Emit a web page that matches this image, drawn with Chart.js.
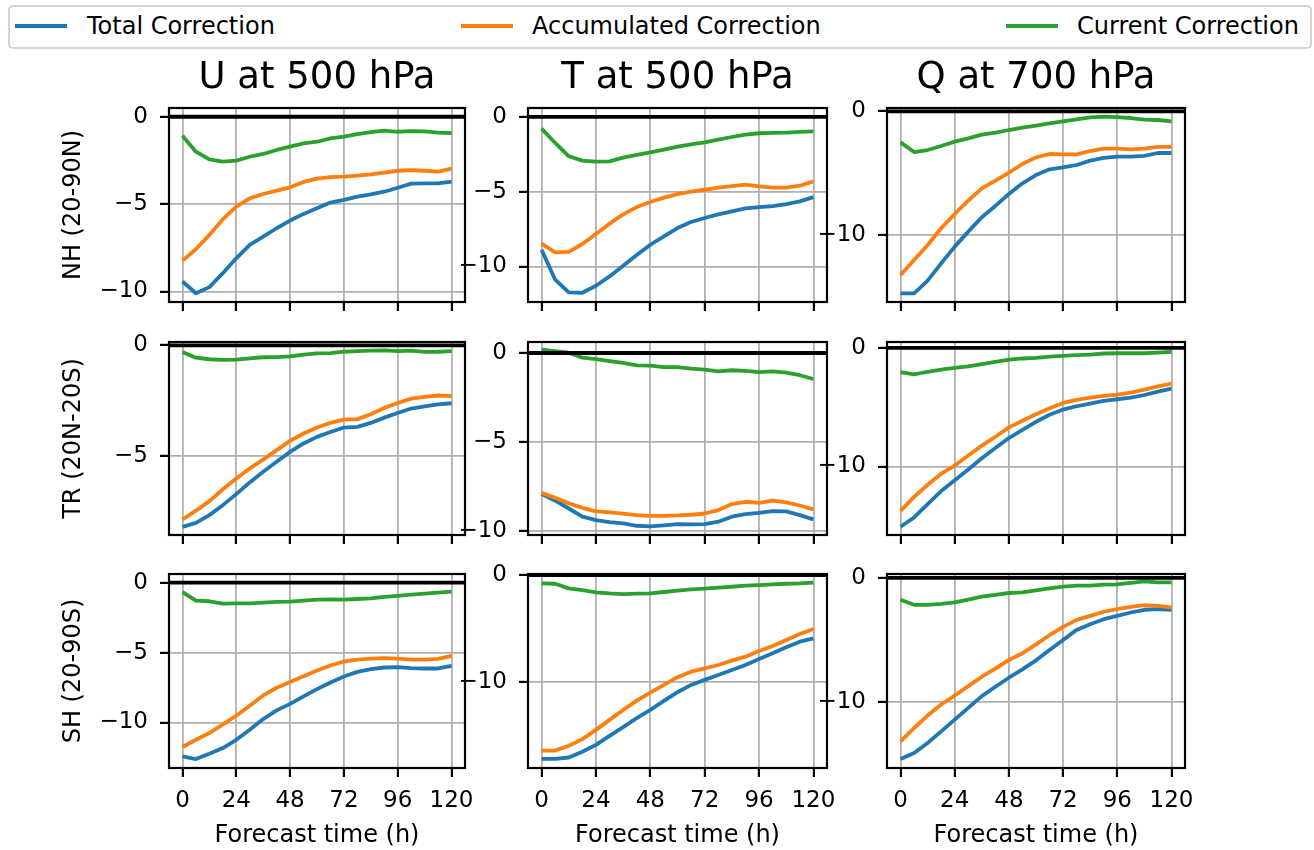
<!DOCTYPE html>
<html>
<head>
<meta charset="utf-8">
<script src="https://cdn.jsdelivr.net/npm/chart.js@4.4.1/dist/chart.umd.min.js"></script>
<style>
html,body{margin:0;padding:0;background:#fff;}
#wrap{position:relative;width:1314px;height:850px;overflow:hidden;font-family:"DejaVu Sans",sans-serif;background:#fff;}
#wrap canvas{position:absolute;left:0;top:0;}
#legendBox{position:absolute;left:8px;top:5px;width:1300px;height:40px;border:2px solid #d4d4d4;border-radius:5px;background:rgba(255,255,255,0.8);}
.lgItem{position:absolute;top:12px;height:28px;line-height:28px;font-size:24px;color:#000;white-space:nowrap;font-family:"DejaVu Sans",sans-serif;}
.lgSwatch{position:absolute;top:24px;height:4px;width:52px;}
</style>
</head>
<body>
<div id="wrap"></div>
<script>
// ---------------- data ----------------
const hours = [0, 6, 12, 18, 24, 30, 36, 42, 48, 54, 60, 66, 72, 78, 84, 90, 96, 102, 108, 114, 120];
const xTicks = [0, 24, 48, 72, 96, 120];
const xLimits = [-6, 126];
const seriesNames = ['Total Correction', 'Accumulated Correction', 'Current Correction'];
const variableTitles = ['U at 500 hPa', 'T at 500 hPa', 'Q at 700 hPa'];
const regionLabels = ['NH (20-90N)', 'TR (20N-20S)', 'SH (20-90S)'];
const xAxisLabel = 'Forecast time (h)';
const referenceValue = 0;

// NH
const uNH_total   = [-9.43,-10.1,-9.75,-8.95,-8.1,-7.33,-6.86,-6.38,-5.94,-5.56,-5.24,-4.91,-4.76,-4.57,-4.44,-4.29,-4.06,-3.83,-3.81,-3.81,-3.71];
const uNH_accum   = [-8.23,-7.58,-6.76,-5.87,-5.14,-4.67,-4.42,-4.23,-4.04,-3.73,-3.54,-3.45,-3.43,-3.37,-3.3,-3.2,-3.09,-3.05,-3.09,-3.14,-2.97];
const uNH_current = [-1.09,-2.0,-2.44,-2.57,-2.51,-2.29,-2.13,-1.9,-1.71,-1.52,-1.43,-1.24,-1.14,-0.99,-0.88,-0.8,-0.86,-0.82,-0.84,-0.91,-0.93];
const tNH_total   = [-8.88,-10.89,-11.74,-11.76,-11.29,-10.67,-9.96,-9.24,-8.55,-7.99,-7.43,-7.03,-6.76,-6.52,-6.32,-6.12,-6.03,-5.96,-5.83,-5.65,-5.36];
const tNH_accum   = [-8.48,-9.06,-9.02,-8.5,-7.83,-7.14,-6.52,-6.03,-5.69,-5.4,-5.16,-5.0,-4.87,-4.73,-4.62,-4.53,-4.64,-4.73,-4.73,-4.6,-4.31];
const tNH_current = [-0.78,-1.74,-2.63,-2.92,-2.99,-2.97,-2.72,-2.54,-2.37,-2.19,-1.99,-1.83,-1.7,-1.52,-1.34,-1.18,-1.09,-1.07,-1.05,-1.0,-0.96];
const qNH_total   = [-14.72,-14.72,-13.69,-12.29,-10.94,-9.73,-8.57,-7.65,-6.68,-5.82,-5.15,-4.69,-4.53,-4.34,-3.99,-3.77,-3.67,-3.67,-3.61,-3.37,-3.37];
const qNH_accum   = [-13.23,-12.02,-10.81,-9.46,-8.3,-7.22,-6.23,-5.61,-4.96,-4.26,-3.72,-3.45,-3.48,-3.48,-3.21,-3.02,-3.02,-3.07,-3.02,-2.88,-2.88];
const qNH_current = [-2.51,-3.29,-3.13,-2.8,-2.45,-2.18,-1.89,-1.73,-1.51,-1.32,-1.16,-0.97,-0.81,-0.65,-0.49,-0.43,-0.46,-0.54,-0.67,-0.7,-0.81];
// TR
const uTR_total   = [-8.21,-8.03,-7.68,-7.23,-6.73,-6.2,-5.72,-5.27,-4.82,-4.44,-4.14,-3.92,-3.72,-3.69,-3.51,-3.27,-3.06,-2.86,-2.76,-2.67,-2.62];
const uTR_accum   = [-7.88,-7.48,-7.05,-6.51,-6.02,-5.57,-5.17,-4.74,-4.32,-3.99,-3.72,-3.51,-3.36,-3.34,-3.12,-2.83,-2.61,-2.41,-2.33,-2.27,-2.3];
const uTR_current = [-0.3,-0.56,-0.63,-0.66,-0.65,-0.59,-0.54,-0.53,-0.5,-0.42,-0.36,-0.35,-0.29,-0.26,-0.24,-0.23,-0.26,-0.24,-0.3,-0.29,-0.26];
const tTR_total   = [-7.92,-8.31,-8.75,-9.21,-9.4,-9.51,-9.59,-9.72,-9.76,-9.7,-9.63,-9.64,-9.63,-9.49,-9.21,-9.06,-8.99,-8.9,-8.91,-9.12,-9.36];
const tTR_accum   = [-7.87,-8.15,-8.46,-8.71,-8.91,-8.97,-9.04,-9.12,-9.16,-9.16,-9.14,-9.1,-9.03,-8.84,-8.5,-8.37,-8.43,-8.3,-8.41,-8.58,-8.8];
const tTR_current = [0.19,0.11,0.02,-0.26,-0.34,-0.45,-0.56,-0.69,-0.71,-0.79,-0.79,-0.88,-0.94,-1.03,-0.97,-1.01,-1.07,-1.03,-1.1,-1.25,-1.46];
const qTR_total   = [-15.08,-14.3,-13.18,-12.07,-11.17,-10.25,-9.3,-8.44,-7.6,-6.91,-6.23,-5.64,-5.2,-4.92,-4.69,-4.47,-4.33,-4.19,-3.97,-3.69,-3.44];
const qTR_accum   = [-13.74,-12.57,-11.54,-10.61,-9.92,-9.08,-8.24,-7.49,-6.7,-6.15,-5.59,-5.08,-4.64,-4.39,-4.19,-4.05,-3.94,-3.77,-3.52,-3.24,-3.02];
const qTR_current = [-2.04,-2.23,-2.01,-1.84,-1.68,-1.56,-1.37,-1.17,-0.98,-0.89,-0.84,-0.73,-0.67,-0.61,-0.56,-0.47,-0.45,-0.45,-0.45,-0.39,-0.34];
// SH
const uSH_total   = [-12.43,-12.62,-12.24,-11.83,-11.24,-10.52,-9.76,-9.14,-8.67,-8.14,-7.62,-7.14,-6.71,-6.38,-6.19,-6.07,-6.05,-6.12,-6.14,-6.14,-5.95];
const uSH_accum   = [-11.76,-11.24,-10.76,-10.14,-9.52,-8.81,-8.07,-7.52,-7.1,-6.69,-6.29,-5.93,-5.64,-5.5,-5.43,-5.4,-5.43,-5.5,-5.5,-5.45,-5.24];
const uSH_current = [-0.67,-1.29,-1.33,-1.5,-1.48,-1.48,-1.43,-1.38,-1.36,-1.29,-1.21,-1.19,-1.21,-1.17,-1.12,-1.02,-0.95,-0.86,-0.79,-0.71,-0.64];
const tSH_total   = [-17.14,-17.14,-17.02,-16.49,-15.84,-15.0,-14.19,-13.35,-12.58,-11.74,-10.93,-10.25,-9.78,-9.32,-8.85,-8.39,-7.83,-7.3,-6.74,-6.21,-5.9];
const tSH_accum   = [-16.37,-16.37,-15.93,-15.31,-14.44,-13.51,-12.58,-11.71,-10.96,-10.25,-9.53,-9.01,-8.7,-8.39,-7.98,-7.61,-7.08,-6.61,-6.06,-5.5,-5.03];
const tSH_current = [-0.78,-0.81,-1.24,-1.4,-1.61,-1.71,-1.77,-1.74,-1.71,-1.58,-1.46,-1.34,-1.27,-1.18,-1.09,-0.99,-0.93,-0.87,-0.81,-0.78,-0.71];
const qSH_total   = [-14.58,-14.1,-13.29,-12.35,-11.4,-10.46,-9.51,-8.76,-8.03,-7.36,-6.63,-5.8,-4.99,-4.18,-3.72,-3.32,-3.05,-2.78,-2.56,-2.51,-2.56];
const qSH_accum   = [-13.15,-12.08,-11.08,-10.19,-9.46,-8.71,-7.95,-7.3,-6.6,-6.06,-5.34,-4.61,-3.94,-3.37,-3.05,-2.72,-2.51,-2.32,-2.18,-2.24,-2.37];
const qSH_current = [-1.75,-2.16,-2.16,-2.08,-1.97,-1.75,-1.51,-1.37,-1.21,-1.16,-1.0,-0.84,-0.7,-0.62,-0.62,-0.54,-0.51,-0.4,-0.27,-0.35,-0.35];

// y tick labels and y limits, per panel
const uNH_yTicks = [-10, -5, 0];  const uNH_yLim = [-10.6, 0.5];
const tNH_yTicks = [-10, -5, 0];  const tNH_yLim = [-12.38, 0.6];
const qNH_yTicks = [-10, 0];      const qNH_yLim = [-15.42, 0.27];
const uTR_yTicks = [-5, 0];       const uTR_yLim = [-8.58, 0.15];
const tTR_yTicks = [-10, -5, 0];  const tTR_yLim = [-10.24, 0.62];
const qTR_yTicks = [-10, 0];      const qTR_yLim = [-15.78, 0.5];
const uSH_yTicks = [-10, -5, 0];  const uSH_yLim = [-13.26, 0.62];
const tSH_yTicks = [-10, 0];      const tSH_yLim = [-18.0, 0.1];
const qSH_yTicks = [-10, 0];      const qSH_yLim = [-15.3, 0.32];

const panelData = [
  [[uNH_total,uNH_accum,uNH_current,uNH_yTicks,uNH_yLim],[tNH_total,tNH_accum,tNH_current,tNH_yTicks,tNH_yLim],[qNH_total,qNH_accum,qNH_current,qNH_yTicks,qNH_yLim]],
  [[uTR_total,uTR_accum,uTR_current,uTR_yTicks,uTR_yLim],[tTR_total,tTR_accum,tTR_current,tTR_yTicks,tTR_yLim],[qTR_total,qTR_accum,qTR_current,qTR_yTicks,qTR_yLim]],
  [[uSH_total,uSH_accum,uSH_current,uSH_yTicks,uSH_yLim],[tSH_total,tSH_accum,tSH_current,tSH_yTicks,tSH_yLim],[qSH_total,qSH_accum,qSH_current,qSH_yTicks,qSH_yLim]]
];

// ---------------- layout / style ----------------
const W = 1314, H = 850;
const colLeft = [169, 528, 887], colRight = [465, 827, 1185];
const rowTop = [108, 342, 574], rowBottom = [302, 535, 768];
const colors = ['#1f77b4', '#ff7f0e', '#2ca02c'];
const LINE_W = 3.8;
const FONT = 'DejaVu Sans';
const TICK_SIZE = 23, LABEL_SIZE = 24, TITLE_SIZE = 37;

Chart.defaults.font.family = FONT;
Chart.defaults.color = '#000';

const wrap = document.getElementById('wrap');

// legend (HTML)
const legendBox = document.createElement('div');
legendBox.id = 'legendBox';
wrap.appendChild(legendBox);
const legendSwatchX = [15, 461, 1006];
const legendTextX = [87, 532, 1077];
seriesNames.forEach((name, i) => {
  const sw = document.createElement('div');
  sw.className = 'lgSwatch';
  sw.style.left = legendSwatchX[i] + 'px';
  sw.style.background = colors[i];
  wrap.appendChild(sw);
  const t = document.createElement('div');
  t.className = 'lgItem';
  t.style.left = legendTextX[i] + 'px';
  t.textContent = name;
  wrap.appendChild(t);
});

const framePlugin = {
  id: 'frameAndZero',
  afterDatasetsDraw(chart) {
    const {ctx, chartArea: a, scales} = chart;
    const y0 = scales.y.getPixelForValue(referenceValue);
    ctx.save();
    ctx.beginPath();
    ctx.rect(a.left, a.top, a.right - a.left, a.bottom - a.top);
    ctx.clip();
    ctx.strokeStyle = '#000';
    ctx.lineWidth = 3.8;
    ctx.beginPath();
    ctx.moveTo(a.left, y0);
    ctx.lineTo(a.right, y0);
    ctx.stroke();
    ctx.restore();
    ctx.save();
    ctx.strokeStyle = '#000';
    ctx.lineWidth = 2.2;
    ctx.strokeRect(a.left, a.top, a.right - a.left, a.bottom - a.top);
    ctx.restore();
  }
};

const minusFmt = v => String(v).replace('-', '\u2212');

function makePanel(r, c) {
  const [total, accum, current, yTicks, yLim] = panelData[r][c];
  const canvas = document.createElement('canvas');
  canvas.width = W; canvas.height = H;
  wrap.appendChild(canvas);

  const L = colLeft[c], R = colRight[c], T = rowTop[r], B = rowBottom[r];
  const yAxW = c === 0 ? L : 80;
  const xAxH = r === 2 ? H - B : 20;
  const titleLine = TITLE_SIZE * 1.2;
  const titlePadBottom = 7.4;
  const topPad = r === 0 ? T - titleLine - titlePadBottom : T;

  const mk = (arr) => hours.map((h, i) => ({x: h, y: arr[i]}));
  const ds = (k, arr, ord) => ({label: seriesNames[k], data: mk(arr), borderColor: colors[k],
    backgroundColor: colors[k], borderWidth: LINE_W, pointRadius: 0, tension: 0, fill: false, order: ord});

  new Chart(canvas, {
    type: 'line',
    data: {
      datasets: [ds(0, total, 3), ds(1, accum, 2), ds(2, current, 1)]
    },
    options: {
      responsive: false,
      animation: false,
      events: [],
      layout: {padding: {left: L - yAxW, right: W - R, top: topPad, bottom: H - B - xAxH}},
      elements: {
        point: {radius: 0, hoverRadius: 0},
        line: {borderWidth: LINE_W, tension: 0, fill: false, borderJoinStyle: 'round', borderCapStyle: 'butt'}
      },
      plugins: {
        legend: {display: false},
        tooltip: {enabled: false},
        title: {
          display: r === 0,
          text: variableTitles[c],
          fullSize: false,
          color: '#000',
          font: {family: FONT, size: TITLE_SIZE, weight: 'normal', lineHeight: 1.2},
          padding: {top: 0, bottom: titlePadBottom}
        }
      },
      scales: {
        x: {
          type: 'linear',
          position: 'bottom',
          min: xLimits[0], max: xLimits[1],
          afterBuildTicks: a => { a.ticks = xTicks.map(v => ({value: v})); },
          afterFit: a => { a.height = xAxH; a.paddingLeft = 0; a.paddingRight = 0; },
          ticks: {display: r === 2, autoSkip: false, maxRotation: 0, padding: 10, color: '#000',
                  font: {family: FONT, size: TICK_SIZE}},
          grid: {color: '#b0b0b0', lineWidth: 1.8, tickColor: '#000', tickWidth: 2.2, tickLength: 9, drawTicks: true},
          border: {display: false},
          title: {display: r === 2, text: xAxisLabel, color: '#000',
                  font: {family: FONT, size: LABEL_SIZE, lineHeight: 1.2}, padding: {top: 0, bottom: 0}}
        },
        y: {
          type: 'linear',
          position: 'left',
          min: yLim[0], max: yLim[1],
          afterBuildTicks: a => { a.ticks = yTicks.map(v => ({value: v})); },
          afterFit: a => { a.width = yAxW; a.paddingTop = 0; a.paddingBottom = 0; },
          ticks: {padding: 12, color: '#000', font: {family: FONT, size: TICK_SIZE}, callback: minusFmt},
          grid: {color: '#b0b0b0', lineWidth: 1.8, tickColor: '#000', tickWidth: 2.2, tickLength: 9, drawTicks: true},
          border: {display: false},
          title: {display: c === 0, text: regionLabels[r], color: '#000',
                  font: {family: FONT, size: LABEL_SIZE, lineHeight: 1.2}, padding: {top: 59, bottom: 0}}
        }
      }
    },
    plugins: [framePlugin]
  });
}

for (let r = 0; r < 3; r++) for (let c = 0; c < 3; c++) makePanel(r, c);
</script>
</body>
</html>
